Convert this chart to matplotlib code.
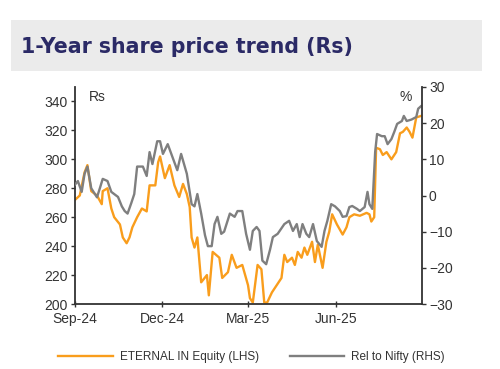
import matplotlib
matplotlib.use("Agg")
import matplotlib.pyplot as plt
import matplotlib.dates as mdates
from matplotlib.patches import Rectangle
import pandas as pd

# ---- data ----
price_dates = ["2024-09-01","2024-09-06","2024-09-11","2024-09-14","2024-09-18","2024-09-24",
    "2024-09-29","2024-09-30","2024-10-05","2024-10-09","2024-10-12","2024-10-18","2024-10-21",
    "2024-10-25","2024-10-28","2024-10-31","2024-11-05","2024-11-10","2024-11-15","2024-11-18",
    "2024-11-24","2024-11-27","2024-11-29","2024-12-04","2024-12-09","2024-12-14","2024-12-19",
    "2024-12-23","2024-12-27","2024-12-30","2025-01-01","2025-01-04","2025-01-07","2025-01-11",
    "2025-01-17","2025-01-19","2025-01-23","2025-01-30","2025-02-02","2025-02-08","2025-02-12",
    "2025-02-17","2025-02-23","2025-03-01","2025-03-03","2025-03-06","2025-03-11","2025-03-15",
    "2025-03-18","2025-03-21","2025-03-26","2025-03-31","2025-04-05","2025-04-08","2025-04-11",
    "2025-04-16","2025-04-19","2025-04-22","2025-04-26","2025-04-29","2025-05-02","2025-05-07",
    "2025-05-10","2025-05-13","2025-05-18","2025-05-22","2025-05-25","2025-05-28","2025-06-02",
    "2025-06-08","2025-06-12","2025-06-15","2025-06-20","2025-06-26","2025-07-03","2025-07-06",
    "2025-07-08","2025-07-11","2025-07-13","2025-07-17","2025-07-20","2025-07-24","2025-07-29",
    "2025-08-03","2025-08-07","2025-08-10","2025-08-14","2025-08-17","2025-08-20","2025-08-24",
    "2025-08-29"]
price = [272,275,291,296,278,275,269,278,280,266,260,255,246,242,246,253,260,266,264,282,
    282,298,302,287,296,282,274,283,276,267,246,239,246,215,220,206,236,232,218,222,234,
    225,227,213,204,201,227,224,201,201,208,213,218,234,229,232,227,236,232,239,234,243,
    229,241,225,243,250,262,255,248,253,260,262,261,263,262,257,260,308,307,303,305,300,
    305,318,319,322,319,315,329,330]

rel_dates = ["2024-09-01","2024-09-04","2024-09-08","2024-09-11","2024-09-14","2024-09-18",
    "2024-09-24","2024-09-27","2024-09-30","2024-10-05","2024-10-09","2024-10-12","2024-10-16",
    "2024-10-20","2024-10-23","2024-10-26","2024-10-30","2024-11-02","2024-11-05","2024-11-11",
    "2024-11-15","2024-11-18","2024-11-21","2024-11-26","2024-11-29","2024-12-02","2024-12-07",
    "2024-12-12","2024-12-17","2024-12-21","2024-12-27","2025-01-01","2025-01-04","2025-01-07",
    "2025-01-11","2025-01-15","2025-01-18","2025-01-22","2025-01-25","2025-01-28","2025-02-01",
    "2025-02-04","2025-02-10","2025-02-15","2025-02-18","2025-02-23","2025-02-27","2025-03-03",
    "2025-03-06","2025-03-10","2025-03-13","2025-03-16","2025-03-20","2025-03-24","2025-03-27",
    "2025-04-01","2025-04-08","2025-04-13","2025-04-17","2025-04-21","2025-04-24","2025-04-27",
    "2025-05-01","2025-05-04","2025-05-08","2025-05-12","2025-05-17","2025-05-20","2025-05-23",
    "2025-05-27","2025-05-31","2025-06-05","2025-06-08","2025-06-12","2025-06-15","2025-06-18",
    "2025-06-23","2025-06-26","2025-07-01","2025-07-04","2025-07-06","2025-07-09","2025-07-12",
    "2025-07-14","2025-07-19","2025-07-22","2025-07-25","2025-07-29","2025-08-01","2025-08-04",
    "2025-08-09","2025-08-11","2025-08-14","2025-08-19","2025-08-24","2025-08-26","2025-08-29"]
rel = [3,4,1,6,8,2,-0.5,2,4.6,4,1,0.4,-0.4,-3,-4.3,-5,-2,0.4,8,8,5.4,12,8.7,15,15,11.5,
    14.2,10.6,7,11.5,6,-2.4,-3,0.4,-5,-11,-14,-14,-7.9,-5.9,-10.6,-10,-5,-5.9,-4.3,-4.3,
    -10.6,-15,-9.8,-8.7,-9.8,-18,-19,-15,-11.5,-10.6,-7.9,-7,-9.8,-7.9,-11.5,-7.9,-10.6,
    -11.5,-7.9,-12.6,-14.2,-9.8,-7,-2.4,-3,-4.3,-5.9,-5.7,-3.2,-2.9,-3.7,-4.3,-3.2,1,-2.4,
    -3.7,12,17,16.4,16.4,14.2,15.6,17.6,19.8,20.6,22,20.6,21,21.7,24,24.7]

left_ticks = [200, 220, 240, 260, 280, 300, 320, 340]
right_ticks = [-30, -20, -10, 0, 10, 20, 30]
x_ticks = ["2024-09-01", "2024-12-01", "2025-03-01", "2025-06-01"]
title = "1-Year share price trend (Rs)"
label_price = "ETERNAL IN Equity (LHS)"
label_rel = "Rel to Nifty (RHS)"

ORANGE = "#f99d1c"
GREY = "#7f7f7f"
TXT = "#333333"

plt.rcParams["font.family"] = ["Liberation Sans", "DejaVu Sans"]

fig = plt.figure(figsize=(5.0, 3.69), dpi=100)

# title band
fig.patches.append(Rectangle((11/500, 1-71/369), 471/500, 51/369, transform=fig.transFigure,
                             facecolor="#ebebeb", edgecolor="none", zorder=0))
fig.text(21/500, 1-47/369, title, fontsize=14.8, fontweight="bold", color="#2b2a66",
         family="DejaVu Sans", va="center", ha="left")

ax = fig.add_axes([75/500, 1-304/369, 347/500, 217/369])
ax2 = ax.twinx()

pd_dates = pd.to_datetime(price_dates)
rd_dates = pd.to_datetime(rel_dates)
l1, = ax.plot(pd_dates, price, color=ORANGE, lw=1.7, label=label_price)
l2, = ax2.plot(rd_dates, rel, color=GREY, lw=1.7, label=label_rel)

ax.set_xlim(pd.Timestamp("2024-09-01"), pd.Timestamp("2025-08-30"))
ax.set_ylim(200, 350)
ax2.set_ylim(-30, 30)
ax.set_yticks(left_ticks)
ax2.set_yticks(right_ticks)
ax.set_xticks(pd.to_datetime(x_ticks))
ax.xaxis.set_major_formatter(mdates.DateFormatter("%b-%y"))

for a in (ax, ax2):
    a.spines["top"].set_visible(False)
    for s in ("left", "right", "bottom"):
        a.spines[s].set_color("#333333")
        a.spines[s].set_linewidth(1.3)
ax.spines["right"].set_visible(False)
ax2.spines["left"].set_visible(False)
ax2.spines["bottom"].set_visible(False)

ax.tick_params(axis="y", direction="out", length=3, width=1, colors="#333333",
               labelsize=10, labelcolor=TXT, pad=2)
ax2.tick_params(axis="y", direction="out", length=3, width=1, colors="#333333",
                labelsize=10, labelcolor=TXT, pad=2)
ax.tick_params(axis="x", direction="inout", length=5, width=1, colors="#333333",
               labelsize=10, labelcolor=TXT, pad=3)

ax.text(0.04, 0.985, "Rs", transform=ax.transAxes, fontsize=10, color=TXT, va="top", ha="left")
ax.text(0.935, 0.985, "%", transform=ax.transAxes, fontsize=10, color=TXT, va="top", ha="left")

fig.legend(handles=[l1, l2], loc="center", bbox_to_anchor=(0.503, 1-357/369), ncol=2,
           frameon=False, fontsize=8.5, handlelength=4.6, columnspacing=2.6, handletextpad=0.6,
           labelcolor=TXT)

fig.savefig("out.png", dpi=100)
